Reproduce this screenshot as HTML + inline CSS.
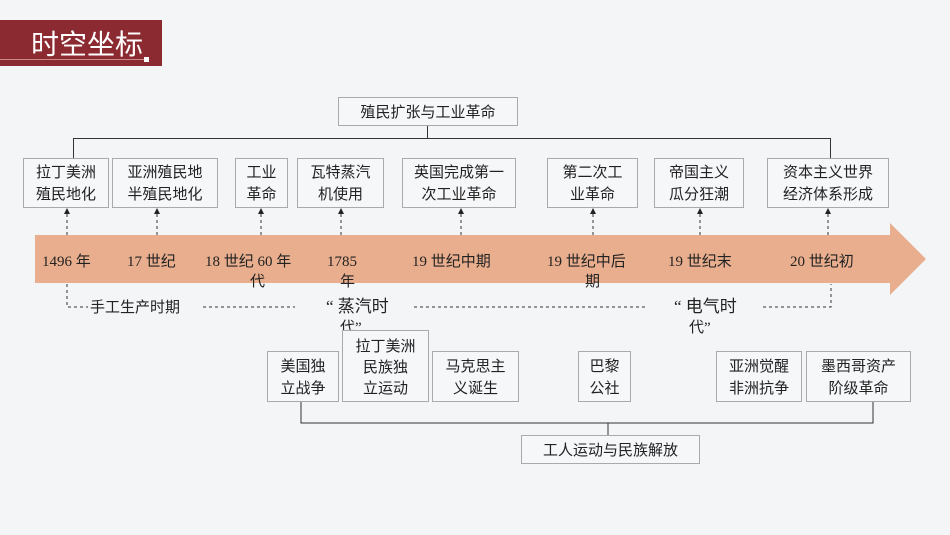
<!DOCTYPE html>
<html><head><meta charset="utf-8"><style>
body{margin:0;width:950px;height:535px;background:#f4f5f7;position:relative;overflow:hidden;font-family:"Liberation Serif","Noto Sans CJK SC",sans-serif;color:#222}
.b{position:absolute;border:1px solid #aaa;background:#f6f7f9;box-sizing:border-box;text-align:center;font-size:15px;line-height:22px;display:flex;align-items:center;justify-content:center;font-family:"Noto Sans CJK SC",sans-serif}
.t{position:absolute;font-size:15px;line-height:20px;white-space:nowrap}
.h{position:absolute;background:#333}
</style></head><body>
<div style="position:absolute;left:0;top:20px;width:162px;height:46px;background:#8b2a30"></div>
<div style="position:absolute;left:0;top:59px;width:145px;height:1px;background:#c88"></div>
<div style="position:absolute;left:144px;top:57px;width:5px;height:5px;background:#fff"></div>
<div style="position:absolute;left:31px;top:24px;font-size:28px;color:#fff;font-family:'Noto Sans CJK SC',sans-serif;line-height:38px">时空坐标</div>

<div class="b" style="left:338px;top:97px;width:180px;height:29px">殖民扩张与工业革命</div>
<div class="h" style="left:427px;top:126px;width:1px;height:12px"></div>
<div class="h" style="left:73px;top:138px;width:758px;height:1px"></div>
<div class="h" style="left:73px;top:138px;width:1px;height:20px"></div>
<div class="h" style="left:830px;top:138px;width:1px;height:20px"></div>

<div class="b" style="left:23px;top:158px;width:86px;height:50px">拉丁美洲<br>殖民地化</div>
<div class="b" style="left:112px;top:158px;width:106px;height:50px">亚洲殖民地<br>半殖民地化</div>
<div class="b" style="left:235px;top:158px;width:53px;height:50px">工业<br>革命</div>
<div class="b" style="left:297px;top:158px;width:87px;height:50px">瓦特蒸汽<br>机使用</div>
<div class="b" style="left:402px;top:158px;width:114px;height:50px">英国完成第一<br>次工业革命</div>
<div class="b" style="left:547px;top:158px;width:91px;height:50px">第二次工<br>业革命</div>
<div class="b" style="left:654px;top:158px;width:90px;height:50px">帝国主义<br>瓜分狂潮</div>
<div class="b" style="left:767px;top:158px;width:122px;height:50px">资本主义世界<br>经济体系形成</div>

<svg style="position:absolute;left:0;top:0" width="950" height="535">
<polygon points="35,235 890,235 890,223 926,259 890,295 890,283 35,283" fill="#e8ae8d"/>
<g stroke="#333" stroke-width="1" stroke-dasharray="3,3" fill="none">
<line x1="67" y1="214" x2="67" y2="235"/><line x1="157" y1="214" x2="157" y2="235"/>
<line x1="261" y1="214" x2="261" y2="235"/><line x1="341" y1="214" x2="341" y2="235"/>
<line x1="461" y1="214" x2="461" y2="235"/><line x1="593" y1="214" x2="593" y2="235"/>
<line x1="700" y1="214" x2="700" y2="235"/><line x1="828" y1="214" x2="828" y2="235"/>
<polyline points="67,284 67,307 88,307"/><line x1="203" y1="307" x2="295" y2="307"/>
<line x1="414" y1="307" x2="645" y2="307"/><polyline points="763,307 831,307 831,284"/>
</g>
<g fill="#222">
<polygon points="67,208 64,214 70,214"/><polygon points="157,208 154,214 160,214"/>
<polygon points="261,208 258,214 264,214"/><polygon points="341,208 338,214 344,214"/>
<polygon points="461,208 458,214 464,214"/><polygon points="593,208 590,214 596,214"/>
<polygon points="700,208 697,214 703,214"/><polygon points="828,208 825,214 831,214"/>
</g>
<g stroke="#333" fill="none"><polyline points="301,402 301,423 873,423 873,402"/><line x1="608" y1="423" x2="608" y2="435"/></g>
</svg>

<div class="t" style="left:42px;top:252px">1496 年</div>
<div class="t" style="left:127px;top:252px">17 世纪</div>
<div class="t" style="left:205px;top:252px">18 世纪 60 年</div>
<div class="t" style="left:250px;top:272px">代</div>
<div class="t" style="left:327px;top:252px">1785</div>
<div class="t" style="left:340px;top:272px">年</div>
<div class="t" style="left:412px;top:252px">19 世纪中期</div>
<div class="t" style="left:547px;top:252px">19 世纪中后</div>
<div class="t" style="left:585px;top:272px">期</div>
<div class="t" style="left:668px;top:252px">19 世纪末</div>
<div class="t" style="left:790px;top:252px">20 世纪初</div>

<div class="t" style="left:90px;top:298px">手工生产时期</div>
<div class="t" style="left:326px;top:297px;font-size:17px">“ 蒸汽时</div>
<div class="t" style="left:340px;top:318px">代”</div>
<div class="t" style="left:674px;top:297px;font-size:17px">“ 电气时</div>
<div class="t" style="left:689px;top:318px">代”</div>

<div class="b" style="left:267px;top:351px;width:72px;height:51px">美国独<br>立战争</div>
<div class="b" style="left:342px;top:330px;width:87px;height:72px;line-height:21px">拉丁美洲<br>民族独<br>立运动</div>
<div class="b" style="left:432px;top:351px;width:87px;height:51px">马克思主<br>义诞生</div>
<div class="b" style="left:578px;top:351px;width:53px;height:51px">巴黎<br>公社</div>
<div class="b" style="left:716px;top:351px;width:86px;height:51px">亚洲觉醒<br>非洲抗争</div>
<div class="b" style="left:806px;top:351px;width:105px;height:51px">墨西哥资产<br>阶级革命</div>
<div class="b" style="left:521px;top:435px;width:179px;height:29px">工人运动与民族解放</div>
</body></html>
